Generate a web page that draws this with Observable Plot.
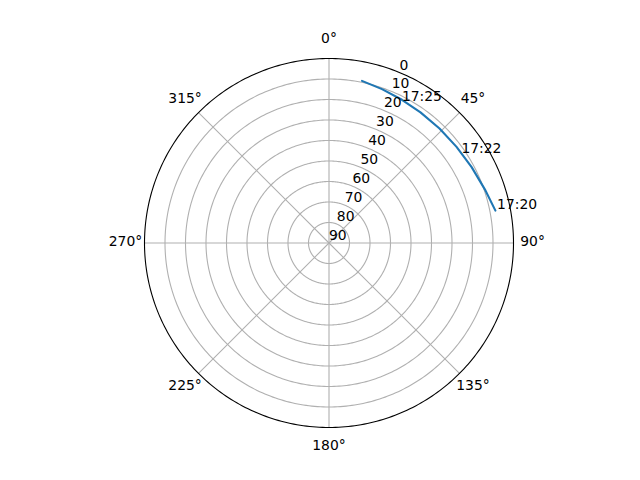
<!DOCTYPE html>
<html><head><meta charset="utf-8">
<script src="https://cdn.jsdelivr.net/npm/d3@7"></script>
<script src="https://cdn.jsdelivr.net/npm/@observablehq/plot@0.6"></script>
<style>body{margin:0;background:#fff}</style>
</head><body><div id="chart"></div>
<script>
// Satellite pass (azimuth in degrees clockwise from North, elevation in degrees)
const trackAzimuth   = [11.5, 19, 27, 35, 44, 53, 62, 71, 79];
const trackElevation = [9.3, 10.6, 11.6, 12.2, 12.4, 12.1, 11.2, 9.6, 7.3];
const labelTimes     = ["17:25", "17:22", "17:20"];
const labelAzimuth   = [27.4, 56.1, 79.1];
const labelElevation = [12.7, 12.2, 6.5];
const ringElevations = [10, 20, 30, 40, 50, 60, 70, 80];
const spokeAzimuths  = [0, 45, 90, 135, 180, 225, 270, 315];
const radialTicks    = [0, 10, 20, 30, 40, 50, 60, 70, 80, 90];
const angleTickLabels = ["0°", "45°", "90°", "135°", "180°", "225°", "270°", "315°"];

const track = trackAzimuth.map((a, i) => ({az: a, el: trackElevation[i]}));
const labels = labelTimes.map((t, i) => ({t, az: labelAzimuth[i], el: labelElevation[i]}));
const angleLabels = spokeAzimuths.map((a, i) => ({az: a, label: angleTickLabels[i]}));

const circle = (el) => d3.geoCircle().center([0, 90]).radius(90 - el).precision(1)();

const font = "DejaVu Sans, Liberation Sans, sans-serif";
const fs = 13.9;

const chart = Plot.plot({
  width: 640,
  height: 480,
  marginLeft: 144,
  marginRight: 127,
  marginTop: 58,
  marginBottom: 53,
  style: {fontFamily: font, fontSize: fs + "px", background: "#fff", color: "#000"},
  projection: {
    type: () => d3.geoAzimuthalEquidistant().rotate([180, -90]).reflectX(true),
    domain: circle(0),
    clip: false
  },
  marks: [
    Plot.geo(ringElevations, {geometry: circle, stroke: "#b0b0b0", strokeWidth: 1.1, fill: "none", strokeOpacity: 1}),
    Plot.link(spokeAzimuths, {x1: d => d, y1: () => 90, x2: d => d, y2: () => 0, stroke: "#b0b0b0", strokeWidth: 1.1, strokeOpacity: 1}),
    Plot.geo([0], {geometry: circle, stroke: "#000", strokeWidth: 1.1, fill: "none", strokeOpacity: 1}),
    Plot.line(track, {x: "az", y: "el", stroke: "#1f77b4", strokeWidth: 2.1}),
    Plot.text(radialTicks, {x: () => 22.5, y: d => d, text: d => String(d), textAnchor: "start", lineAnchor: "bottom", dy: -3, fontSize: fs, fill: "#000"}),
    Plot.text(labels, {x: "az", y: "el", text: "t", textAnchor: "start", lineAnchor: "bottom", dy: -1.5, fontSize: fs, fill: "#000"}),
    Plot.text(angleLabels, {x: "az", y: () => -9.3, text: "label", textAnchor: "middle", lineAnchor: "middle", dy: -1, fontSize: fs, fill: "#000"})
  ]
});
document.getElementById("chart").appendChild(chart);
</script>
</body></html>
